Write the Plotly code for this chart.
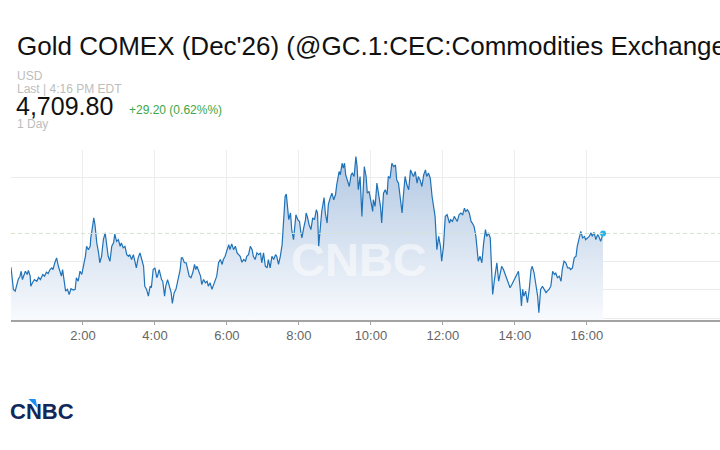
import pandas as pd
import plotly.graph_objects as go

# minutes after midnight and the traded price at that minute
minutes = [
    0, 4, 7, 9, 12, 15, 17, 19, 22, 24,
    27, 29, 32, 33, 36, 39, 43, 46, 49, 53,
    56, 59, 62, 65, 68, 70, 73, 76, 79, 82,
    84, 86, 89, 91, 94, 97, 100, 104, 107, 109,
    112, 115, 118, 121, 124, 126, 129, 132, 133, 136,
    138, 140, 143, 146, 148, 151, 154, 157, 159, 162,
    165, 168, 171, 173, 176, 179, 182, 184, 187, 190,
    193, 196, 198, 201, 204, 207, 209, 212, 215, 218,
    221, 223, 226, 229, 232, 234, 237, 240, 243, 245,
    247, 251, 253, 256, 258, 261, 264, 267, 269, 272,
    275, 277, 279, 282, 284, 286, 289, 292, 294, 297,
    300, 303, 306, 308, 310, 313, 316, 318, 321, 324,
    327, 329, 332, 335, 338, 341, 343, 346, 349, 352,
    354, 357, 360, 363, 365, 368, 371, 374, 377, 379,
    382, 385, 388, 391, 393, 396, 399, 402, 404, 407,
    410, 413, 416, 418, 421, 424, 427, 429, 432, 435,
    438, 441, 443, 446, 449, 452, 454, 457, 459, 461,
    463, 466, 468, 471, 473, 475, 478, 481, 483, 485,
    488, 491, 492, 494, 497, 500, 503, 506, 509, 511,
    513, 516, 518, 522, 524, 527, 529, 532, 535, 538,
    541, 543, 545, 547, 549, 552, 554, 556, 558, 561,
    564, 567, 569, 572, 575, 577, 579, 582, 585, 588,
    589, 592, 594, 597, 600, 603, 604, 607, 610, 613,
    616, 618, 621, 624, 627, 629, 632, 635, 638, 641,
    643, 646, 649, 652, 654, 657, 660, 663, 666, 668,
    671, 674, 677, 679, 682, 685, 688, 691, 693, 696,
    699, 702, 704, 707, 710, 713, 716, 718, 721, 724,
    727, 731, 733, 736, 739, 742, 744, 747, 750, 753,
    756, 758, 761, 764, 767, 769, 772, 775, 778, 779,
    782, 785, 788, 791, 793, 796, 799, 802, 803, 806,
    808, 810, 813, 816, 818, 821, 824, 827, 829, 832,
    835, 838, 841, 843, 846, 849, 851, 853, 855, 858,
    861, 864, 867, 869, 872, 875, 878, 880, 883, 886,
    889, 892, 894, 897, 900, 903, 906, 908, 911, 914,
    917, 919, 922, 925, 928, 931, 933, 936, 939, 942,
    944, 947, 950, 953, 956, 958, 961, 964, 967, 969,
    972, 975, 978, 980, 983, 986, 987,
]
prices = [
    4656.0, 4640.3, 4639.1, 4642.6, 4647.3, 4649.7, 4653.2, 4647.3, 4650.9, 4653.2,
    4650.9, 4653.7, 4649.7, 4642.6, 4645.2, 4647.3, 4646.1, 4648.8, 4647.3, 4650.9,
    4649.7, 4652.5, 4651.6, 4654.4, 4655.6, 4654.4, 4659.2, 4662.7, 4656.7, 4653.2,
    4649.7, 4654.4, 4646.1, 4639.1, 4640.3, 4636.7, 4640.8, 4639.8, 4640.3, 4648.6,
    4646.1, 4653.2, 4650.9, 4656.7, 4663.8, 4670.9, 4668.5, 4670.9, 4676.8, 4685.0,
    4691.0, 4686.2, 4673.3, 4666.2, 4659.2, 4663.8, 4675.6, 4680.4, 4674.4, 4663.8,
    4660.3, 4670.9, 4673.3, 4679.6, 4674.4, 4675.6, 4670.9, 4673.3, 4669.8, 4670.9,
    4665.0, 4663.8, 4665.0, 4661.5, 4665.0, 4658.0, 4655.6, 4662.7, 4666.2, 4661.5,
    4656.7, 4642.6, 4640.3, 4635.5, 4642.6, 4641.5, 4654.4, 4655.6, 4648.6, 4650.9,
    4654.4, 4647.3, 4646.1, 4635.5, 4642.6, 4647.3, 4642.6, 4638.0, 4630.4, 4638.0,
    4640.3, 4645.0, 4647.3, 4654.4, 4662.7, 4662.7, 4659.2, 4659.2, 4655.6, 4649.7,
    4648.6, 4652.1, 4658.0, 4654.4, 4656.7, 4653.2, 4649.7, 4643.8, 4647.3, 4645.0,
    4646.1, 4642.6, 4645.0, 4640.3, 4643.8, 4646.1, 4649.7, 4659.2, 4661.5, 4658.0,
    4661.5, 4663.8, 4667.3, 4672.1, 4668.5, 4672.6, 4668.5, 4670.9, 4666.2, 4665.0,
    4663.8, 4659.6, 4661.5, 4660.3, 4663.8, 4665.0, 4670.9, 4668.5, 4663.8, 4661.5,
    4666.2, 4665.0, 4666.2, 4659.2, 4666.2, 4656.7, 4655.6, 4661.5, 4655.6, 4663.8,
    4661.5, 4665.0, 4663.8, 4658.0, 4663.8, 4672.1, 4685.0, 4706.2, 4707.9, 4696.8,
    4689.8, 4694.5, 4682.7, 4675.6, 4682.7, 4693.3, 4689.8, 4688.5, 4681.5, 4676.8,
    4683.9, 4689.8, 4694.5, 4692.1, 4686.2, 4682.7, 4691.0, 4689.8, 4696.8, 4694.5,
    4670.9, 4685.0, 4695.6, 4705.5, 4694.5, 4687.4, 4700.4, 4705.1, 4708.6, 4703.9,
    4707.4, 4714.5, 4720.4, 4723.9, 4721.6, 4729.8, 4726.3, 4729.8, 4721.6, 4716.8,
    4713.3, 4721.6, 4722.8, 4720.4, 4734.5, 4727.4, 4711.0, 4720.4, 4692.1, 4718.0,
    4727.4, 4720.4, 4708.6, 4709.8, 4701.6, 4695.6, 4703.9, 4699.2, 4715.7, 4708.6,
    4699.2, 4687.4, 4708.6, 4711.0, 4707.4, 4720.4, 4719.2, 4729.8, 4727.4, 4728.6,
    4718.0, 4715.7, 4703.9, 4694.5, 4706.2, 4720.4, 4714.5, 4711.0, 4725.1, 4722.8,
    4720.4, 4723.9, 4715.7, 4720.4, 4718.0, 4713.3, 4721.6, 4725.1, 4720.4, 4722.8,
    4719.2, 4706.2, 4701.6, 4692.1, 4668.5, 4677.9, 4670.9, 4660.3, 4670.9, 4692.1,
    4693.3, 4687.4, 4689.8, 4688.5, 4692.1, 4689.8, 4688.5, 4693.3, 4694.5, 4693.3,
    4698.0, 4695.6, 4696.8, 4694.5, 4688.5, 4687.4, 4685.0, 4677.9, 4666.2, 4660.3,
    4663.8, 4659.2, 4673.3, 4682.7, 4677.9, 4680.4, 4676.8, 4652.1, 4636.7, 4647.3,
    4652.1, 4659.2, 4646.1, 4654.4, 4656.7, 4654.4, 4650.9, 4648.6, 4645.0, 4641.5,
    4643.8, 4646.1, 4648.6, 4650.9, 4653.2, 4640.3, 4628.5, 4640.3, 4635.5, 4639.1,
    4630.9, 4640.3, 4654.4, 4656.7, 4652.1, 4643.8, 4635.5, 4623.8, 4640.3, 4642.6,
    4640.3, 4638.0, 4639.1, 4640.3, 4642.6, 4653.2, 4650.9, 4652.1, 4648.6, 4649.7,
    4646.1, 4654.4, 4660.3, 4659.2, 4655.6, 4655.6, 4654.4, 4655.6, 4662.7, 4663.8,
    4670.9, 4676.8, 4681.5, 4676.8, 4677.9, 4675.6, 4676.8, 4677.9, 4680.4, 4677.9,
    4680.8, 4675.6, 4679.2, 4677.9, 4674.4, 4679.2, 4679.9,
]

day = "2026-04-17"
tick_hours = [2, 4, 6, 8, 10, 12, 14, 16]
grid_prices = [4620, 4640, 4660, 4720]
ref_price = 4680
y_range = [4618.6, 4739.2]

title = "Gold COMEX (Dec'26) (@GC.1:CEC:Commodities Exchange)"
currency = "USD"
last_time = "Last | 4:16 PM EDT"
last_price = "4,709.80"
change = "+29.20 (0.62%%)"
period = "1 Day"

times = pd.Timestamp(day) + pd.to_timedelta(minutes, unit="min")
tickvals = [pd.Timestamp(day) + pd.Timedelta(hours=h) for h in tick_hours]

W, H = 720, 450
L, R, T, B = 11, 0, 150, 130
PW, PH = W - L - R, H - T - B


def px(x):
    return (x - L) / PW


def py(y):
    return 1 - (y - T) / PH


fig = go.Figure()
fig.add_trace(go.Scatter(
    x=times, y=prices, mode="lines",
    line=dict(color="#1f72b8", width=1.2),
    fill="tozeroy",
    fillgradient=dict(type="vertical", start=y_range[0], stop=max(prices),
                      colorscale=[[0, "#f8fafd"], [1, "#b2c8e3"]]),
    hoverinfo="skip",
))
fig.add_trace(go.Scatter(
    x=[times[-1]], y=[prices[-1]], mode="markers",
    marker=dict(color="#2bb5ee", size=6),
    hoverinfo="skip",
))

fig.add_hline(y=ref_price, line=dict(color="#d3e5cc", width=1, dash="4px,3px"))

text_font = "Liberation Sans, Arial, Helvetica, sans-serif"
anns = [
    dict(text=title, x=px(15), y=py(46), size=26, color="#111111"),
    dict(text=currency, x=px(15), y=py(76), size=12, color="#bdbdbd"),
    dict(text=last_time, x=px(15), y=py(88.5), size=12, color="#bdbdbd"),
    dict(text=last_price, x=px(14), y=py(106), size=25, color="#111111"),
    dict(text=change, x=px(127), y=py(110), size=12, color="#3da648"),
    dict(text=period, x=px(15), y=py(123.5), size=12, color="#bdbdbd"),
]
for a in anns:
    fig.add_annotation(text=a["text"], x=a["x"], y=a["y"], xref="paper", yref="paper",
                       xanchor="left", yanchor="middle", showarrow=False,
                       font=dict(family=text_font, size=a["size"], color=a["color"]))

# watermark in the plot and logo at the bottom left
fig.add_annotation(text="<b>CNBC</b>", x=px(359), y=py(259), xref="paper", yref="paper",
                   showarrow=False, xanchor="center", yanchor="middle",
                   font=dict(family=text_font, size=47, color="rgba(255,255,255,0.55)"))
fig.add_annotation(text="<b>CNBC</b>", x=px(8), y=py(411), xref="paper", yref="paper",
                   showarrow=False, xanchor="left", yanchor="middle",
                   font=dict(family=text_font, size=22, color="#10285a"))
fig.add_shape(type="path", xref="paper", yref="paper",
              path=f"M {px(28.5)} {py(399)} L {px(35.5)} {py(399)} L {px(37.5)} {py(408)} Z",
              fillcolor="#1b8ef5", line=dict(width=0), layer="above")

fig.update_layout(
    width=W, height=H,
    margin=dict(l=L, r=R, t=T, b=B),
    paper_bgcolor="white", plot_bgcolor="white",
    showlegend=False, hovermode=False,
    xaxis=dict(
        type="date",
        range=[pd.Timestamp(day), pd.Timestamp(day) + pd.Timedelta(minutes=1182)],
        tickvals=tickvals, tickformat="%-H:%M",
        showgrid=True, gridcolor="#ececec", gridwidth=1,
        showline=True, linecolor="#a3a3a3", linewidth=1.5,
        ticks="outside", ticklen=3, tickcolor="#a3a3a3",
        tickfont=dict(family=text_font, size=13, color="#666666"),
        zeroline=False, fixedrange=True,
    ),
    yaxis=dict(
        range=y_range, tickvals=grid_prices, showticklabels=False,
        showgrid=True, gridcolor="#ececec", gridwidth=1,
        zeroline=False, showline=False, fixedrange=True,
    ),
)

fig.write_html("out.html", config={"displayModeBar": False},
               post_script="document.body.style.margin = '0';")
